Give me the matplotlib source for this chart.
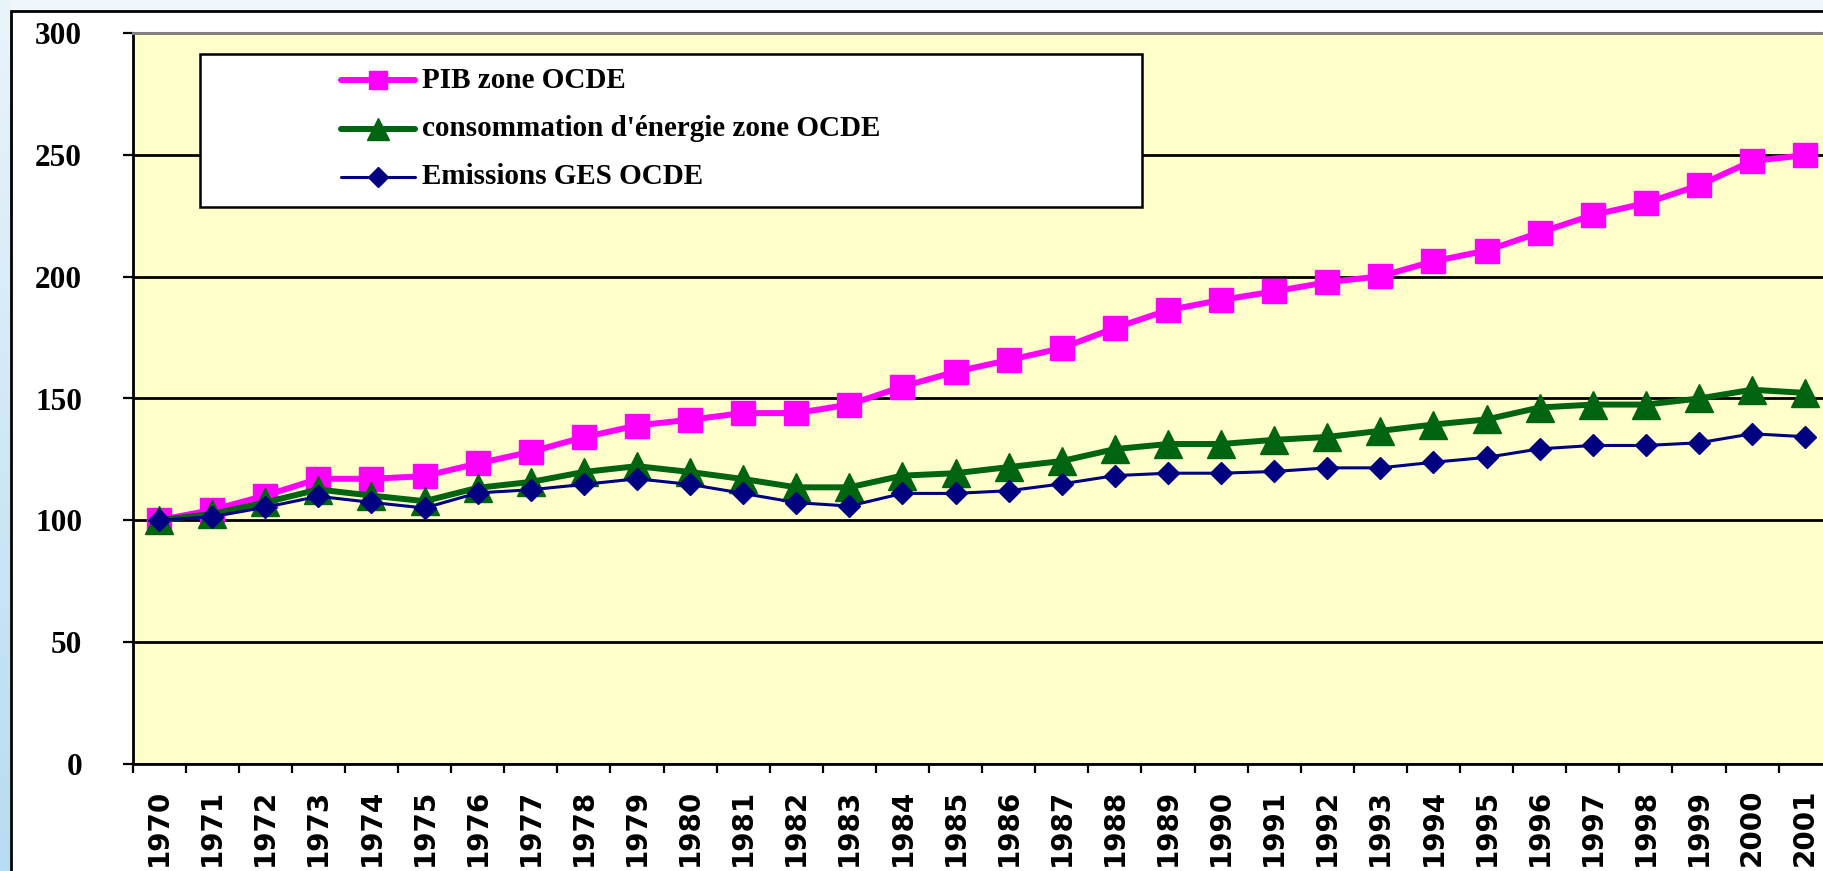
import numpy as np
import matplotlib
matplotlib.use("Agg")
import matplotlib.pyplot as plt
from matplotlib.lines import Line2D
from matplotlib.patches import Rectangle
from matplotlib.colors import LinearSegmentedColormap

years = [str(y) for y in range(1970, 2002)]
pib = [100, 104.2, 110.1, 117, 117, 118.1, 123.3, 128.1, 134.1, 138.9, 141.3,
       144.0, 144.0, 147.5, 154.9, 161, 165.8, 170.7, 179.0, 186.3, 190.5,
       194.0, 197.8, 200.2, 206.4, 210.8, 218.2, 225.4, 230.3, 237.6, 247.6, 250.0]
energie = [100, 102.5, 107.3, 112.6, 110.1, 107.8, 113.3, 115.7, 119.8, 122.2, 119.8,
           116.9, 113.5, 113.5, 118.3, 119.3, 121.8, 124.3, 129.2, 131.3, 131.3,
           133.0, 134.2, 136.7, 139.3, 141.4, 146.3, 147.5, 147.5, 150.0, 153.6, 152.3]
emissions = [100, 101.4, 105.3, 109.8, 107.3, 105.0, 111.2, 112.5, 114.7, 117.0, 114.7,
             111.0, 107.2, 105.8, 111.0, 111.0, 112.1, 114.9, 118.3, 119.3, 119.3,
             120.0, 121.5, 121.5, 123.8, 125.8, 129.3, 130.7, 130.7, 131.8, 135.5, 134.3]
series_names = ["PIB zone OCDE", "consommation d'énergie zone OCDE", "Emissions GES OCDE"]
yticks = [0, 50, 100, 150, 200, 250, 300]

W, H = 1823, 871
fig = plt.figure(figsize=(W / 100, H / 100), dpi=100)
fig.patch.set_facecolor("#f0f7fc")

def fx(x):
    return x / W

def fy(y):
    return 1 - y / H

# left gradient strip
bg = fig.add_axes([0, 0, fx(10), 1])
grad = np.linspace(0, 1, 256).reshape(-1, 1)
cmap = LinearSegmentedColormap.from_list("g", ["#eaf4fb", "#b8dcf2"])
bg.imshow(grad, aspect="auto", cmap=cmap, extent=[0, 1, 0, 1], origin="upper")
bg.axis("off")

# white chart area with black frame
fig.add_artist(Rectangle((fx(10.5), -0.2), 2, fy(11.5) + 0.2, transform=fig.transFigure,
                         facecolor="white", edgecolor="black", linewidth=2.0, zorder=0))

ax = fig.add_axes([fx(132.5), 1 - 763.5 / H, 32 * 53.1 / W, 730 / H])
ax.set_facecolor("#ffffcc")
x = np.arange(len(years))

styles = [
    dict(color="#ff00ff", lw=4.3, marker="s", ms=17, lms=13),
    dict(color="#006411", lw=4.3, marker="^", ms=19.5, lms=15.5),
    dict(color="#000080", lw=2.2, marker="D", ms=11, lms=10.5),
]
for i, (vals, st) in enumerate(zip([pib, energie, emissions], styles)):
    ax.plot(x, vals, color=st["color"], lw=st["lw"], marker=st["marker"], ms=st["ms"],
            mec=st["color"], mfc=st["color"], zorder=3 + i, solid_joinstyle="round",
            solid_capstyle="round", clip_on=False)

ax.set_xlim(-0.5, len(years) - 0.5)
ax.set_ylim(0, 300)
ax.set_yticks(yticks)
ax.set_yticklabels([str(v) for v in yticks], fontfamily="Liberation Serif",
                   fontweight="bold", fontsize=22.5)
ax.tick_params(axis="y", direction="out", length=7.2, width=1.6, pad=29)
ax.yaxis.grid(True, color="black", lw=2.0)
ax.set_axisbelow(True)

ax.set_xticks(x)
ax.set_xticklabels(years, rotation=90, fontfamily="DejaVu Sans", fontweight="bold",
                   fontsize=20)
ax.tick_params(axis="x", which="major", length=0, pad=18)
ax.set_xticks(np.arange(-0.5, len(years) + 0.5, 1), minor=True)
ax.tick_params(axis="x", which="minor", direction="out", length=6.5, width=1.6)

for s in ["left", "bottom"]:
    ax.spines[s].set_color("black")
    ax.spines[s].set_linewidth(2.0)
ax.spines["top"].set_color("#808080")
ax.spines["top"].set_linewidth(2.2)
ax.spines["right"].set_visible(False)

# legend box
fig.add_artist(Rectangle((fx(200), fy(207.3)), fx(1141.7 - 200), (207.3 - 54.3) / H,
                         transform=fig.transFigure, facecolor="white",
                         edgecolor="black", linewidth=1.8, zorder=10))
entry_y = [80, 129, 177]
for name, st, ey in zip(series_names, styles, entry_y):
    fig.add_artist(Line2D([fx(341), fx(378), fx(415)], [fy(ey)] * 3,
                          transform=fig.transFigure, color=st["color"], lw=st["lw"],
                          marker=st["marker"], ms=st["lms"], markevery=[1],
                          mfc=st["color"], mec=st["color"], solid_capstyle="round",
                          zorder=11))
    fig.text(fx(422), fy(ey), name, fontfamily="Liberation Serif", fontweight="bold",
             fontsize=21, va="center", ha="left", zorder=12)

fig.savefig("out.png", dpi=100, facecolor=fig.get_facecolor())
